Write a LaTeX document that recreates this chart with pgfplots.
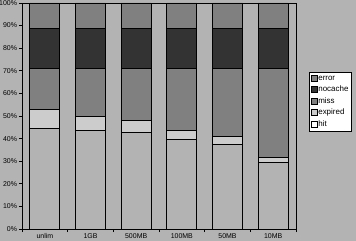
\documentclass[border=0pt]{standalone}
\usepackage{pgfplots}
\pgfplotsset{compat=1.18}
\usepackage{fontspec}
\setmainfont{Liberation Sans}
\definecolor{bg}{HTML}{B3B3B3}
\definecolor{cexp}{HTML}{CCCCCC}
\definecolor{cmiss}{HTML}{808080}
\definecolor{cnoc}{HTML}{333333}
\definecolor{cerr}{HTML}{808080}
\begin{document}
\begin{tikzpicture}
\path[use as bounding box, fill=bg] (0,0) rectangle (356bp,241bp);
\begin{axis}[
  at={(22bp,12bp)}, anchor=south west,
  scale only axis, width=274bp, height=226bp,
  ybar stacked, bar width=30bp,
  xmin=-0.5, xmax=5.5, ymin=0, ymax=100,
  axis line style={line width=0.8bp},
  tick style={black, line width=0.8bp},
  tick align=outside, major tick length=3bp,
  xtick={-0.5,0.5,...,5.5}, xticklabels={},
  extra x ticks={0,1,2,3,4,5},
  extra x tick labels={unlim,1GB,500MB,100MB,50MB,10MB},
  extra x tick style={major tick length=0pt, tick label style={yshift=-1bp}},
  xtick pos=left, ytick pos=left,
  ytick={0,10,...,100},
  yticklabel={\pgfmathprintnumber{\tick}\%},
  /pgf/number format/assume math mode=true,
  ticklabel style={font=\fontsize{7}{8}\selectfont},
  yticklabel style={xshift=1.5bp},
  every axis plot/.append style={draw=black, line width=0.7bp},
  legend style={at={(1.047,0.695)}, anchor=north west, fill=white, draw=black,
    line width=0.7bp, font=\fontsize{8}{9}\selectfont, inner sep=1.5bp,
    row sep=0.3bp, legend cell align=left,
    nodes={inner xsep=1bp}},
  legend image code/.code={\draw[#1, line width=0.6bp] (0bp,-3bp) rectangle (6bp,3bp);},
]
\addplot[fill=bg, forget plot] coordinates {(0,44.6) (1,43.7) (2,42.8) (3,39.8) (4,37.5) (5,29.5)};
\addplot[fill=cexp, forget plot] coordinates {(0,8.2) (1,6.2) (2,5.1) (3,3.9) (4,3.5) (5,2.2)};
\addplot[fill=cmiss, forget plot] coordinates {(0,18.3) (1,21.2) (2,23.2) (3,27.4) (4,30.1) (5,39.4)};
\addplot[fill=cnoc, forget plot] coordinates {(0,17.7) (1,17.7) (2,17.7) (3,17.7) (4,17.7) (5,17.7)};
\addplot[fill=cerr, forget plot] coordinates {(0,11.2) (1,11.2) (2,11.2) (3,11.2) (4,11.2) (5,11.2)};
\addlegendimage{fill=cerr, draw=black}
\addlegendentry{error}
\addlegendimage{fill=cnoc, draw=black}
\addlegendentry{nocache}
\addlegendimage{fill=cmiss, draw=black}
\addlegendentry{miss}
\addlegendimage{fill=cexp, draw=black}
\addlegendentry{expired}
\addlegendimage{fill=white, draw=black}
\addlegendentry{hit}
\end{axis}
\end{tikzpicture}
\end{document}
